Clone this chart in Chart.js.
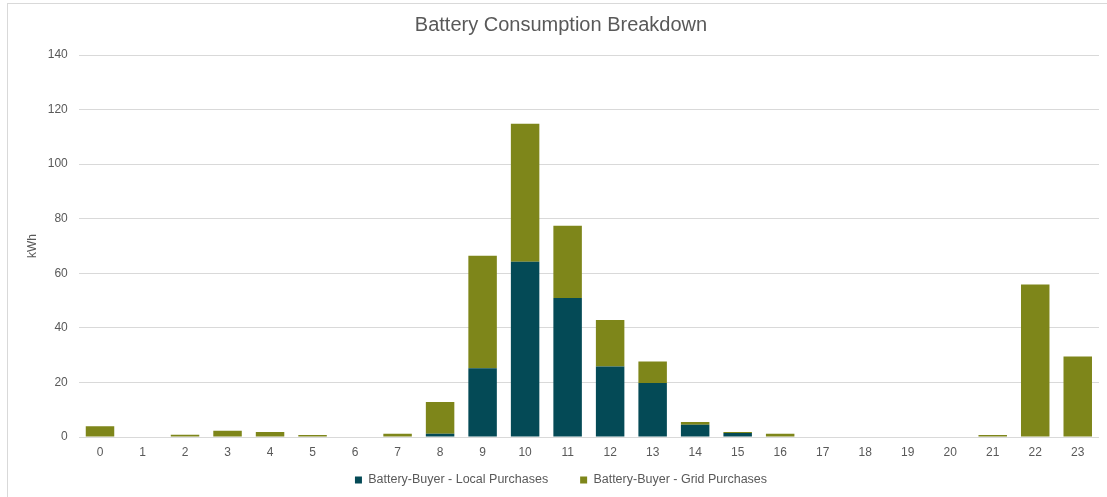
<!DOCTYPE html>
<html>
<head>
<meta charset="utf-8">
<title>Battery Consumption Breakdown</title>
<script src="https://cdn.jsdelivr.net/npm/chart.js@4.4.1/dist/chart.umd.min.js"></script>
<style>
  html, body { margin: 0; padding: 0; background: #ffffff; overflow: hidden; }
  body { width: 1107px; height: 497px; position: relative; }
  #frame { position: absolute; left: 7px; top: 3px; width: 1200px; height: 600px;
           border: 1px solid #d9d9d9; box-sizing: border-box; }
  #wrap { position: absolute; left: 0; top: 0; width: 1122px; height: 497px; }
</style>
</head>
<body>
<div id="frame"></div>
<div id="wrap"><canvas id="chart" width="1122" height="497"></canvas></div>
<script>
// Hour of day
const hours = ['0','1','2','3','4','5','6','7','8','9','10','11','12','13','14','15','16','17','18','19','20','21','22','23'];

// kWh bought by the battery from local sellers, per hour
const localPurchases = [0, 0, 0, 0, 0, 0, 0, 0, 1.2, 25.2, 64.2, 50.9, 25.8, 19.8, 4.5, 1.5, 0, 0, 0, 0, 0, 0, 0, 0];

// kWh bought by the battery from the grid, per hour
const gridPurchases = [3.9, 0, 0.85, 2.3, 1.8, 0.7, 0, 1.2, 11.6, 41.2, 50.6, 26.5, 17.1, 7.9, 1.0, 0.3, 1.2, 0, 0, 0, 0, 0.7, 55.9, 29.5];

const yMax = 140;
const yStep = 20;

const FONT = '"Liberation Sans", Arial, Helvetica, sans-serif';
const TEXT = '#595959';

// The legend uses wide spacing between its entries; lift it back up
// so the entries sit just under the hour labels.
const legendLift = {
  id: 'legendLift',
  afterLayout(chart) {
    const lg = chart.legend;
    if (!lg) return;
    const lift = 17.25;
    lg.top -= lift;
    lg.bottom -= lift;
  }
};

new Chart(document.getElementById('chart'), {
  type: 'bar',
  data: {
    labels: hours,
    datasets: [
      {
        label: 'Battery-Buyer - Local Purchases',
        data: localPurchases,
        backgroundColor: '#044a56',
        borderWidth: 0,
        barPercentage: 0.67,
        categoryPercentage: 1.0
      },
      {
        label: 'Battery-Buyer - Grid Purchases',
        data: gridPurchases,
        backgroundColor: '#7e861a',
        borderWidth: 0,
        barPercentage: 0.67,
        categoryPercentage: 1.0
      }
    ]
  },
  plugins: [legendLift],
  options: {
    responsive: false,
    animation: false,
    devicePixelRatio: 1,
    layout: { padding: { left: 23, right: 23, top: 0, bottom: -16.5 } },
    plugins: {
      title: {
        display: true,
        text: 'Battery Consumption Breakdown',
        color: TEXT,
        font: { family: FONT, size: 20, weight: 'normal' },
        padding: { top: 13.5, bottom: 17.5 }
      },
      legend: {
        position: 'bottom',
        labels: {
          color: TEXT,
          font: { family: FONT, size: 12.5 },
          boxWidth: 7,
          boxHeight: 7,
          padding: 32
        }
      },
      tooltip: { enabled: false }
    },
    scales: {
      x: {
        stacked: true,
        grid: { display: false, drawTicks: false },
        border: { display: false },
        ticks: { color: TEXT, font: { family: FONT, size: 12 }, padding: 8.5, maxRotation: 0 },
        afterFit: (scale) => { scale.height = 22; }
      },
      y: {
        stacked: true,
        min: 0,
        max: yMax,
        grid: { color: '#d9d9d9', lineWidth: 1, drawTicks: false },
        border: { display: false },
        ticks: { stepSize: yStep, color: TEXT, font: { family: FONT, size: 12 }, padding: 11 },
        title: {
          display: true,
          text: 'kWh',
          color: TEXT,
          font: { family: FONT, size: 12 },
          padding: { top: 2, bottom: 0 }
        },
        afterFit: (scale) => { scale.width = 55.75; }
      }
    }
  }
});
</script>
</body>
</html>
